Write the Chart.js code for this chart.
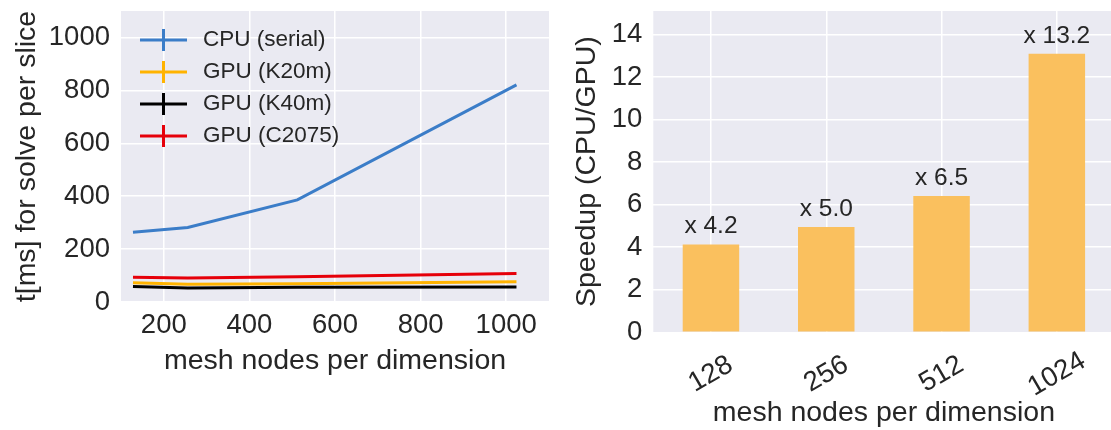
<!DOCTYPE html>
<html><head><meta charset="utf-8">
<script src="https://cdn.jsdelivr.net/npm/chart.js@4.4.1/dist/chart.umd.min.js"></script>
<style>
html,body{margin:0;padding:0;background:#fff;overflow:hidden;width:1111px;height:430px;}
#c1{position:absolute;left:0;top:0;}
#c2{position:absolute;left:560px;top:0;}
</style></head><body>
<canvas id="c1" width="560" height="430"></canvas>
<canvas id="c2" width="560" height="430"></canvas>
<script>
// ---- data ----
const meshNodes = [128, 256, 512, 1024];
const cpuSerial = [264, 282, 386, 821];
const gpuK20m = [73, 67, 69, 77];
const gpuK40m = [59, 53, 55.5, 57];
const gpuC2075 = [93.5, 91, 95, 108];
const timeXTicks = [200, 400, 600, 800, 1000];
const timeYTicks = [0, 200, 400, 600, 800, 1000];
const speedupCategories = ['128', '256', '512', '1024'];
const speedupValues = [4.13, 4.95, 6.40, 13.09];
const speedupLabels = ['x 4.2', 'x 5.0', 'x 6.5', 'x 13.2'];
const speedupYTicks = [0, 2, 4, 6, 8, 10, 12, 14];

const FONT = '"Liberation Sans", Arial, sans-serif';
const TEXT = '#262626';
const TICK_SIZE = 27.5, TITLE_SIZE = 28.5;
Chart.defaults.font.family = FONT;
Chart.defaults.color = TEXT;

function fixW(w) { return s => { s.width = w; s.paddingLeft = s.paddingRight = s.paddingTop = s.paddingBottom = 0; }; }
function fixH(h) { return s => { s.height = h; s.paddingLeft = s.paddingRight = s.paddingTop = s.paddingBottom = 0; }; }
function setTicks(arr) { return s => { s.ticks = arr.map(v => ({ value: v })); }; }
const plain = v => String(v);

const bgPlugin = {
  id: 'bg',
  beforeDraw(chart) {
    const { ctx, chartArea: a } = chart;
    ctx.save(); ctx.fillStyle = '#EAEAF2';
    ctx.fillRect(a.left, a.top, a.right - a.left, a.bottom - a.top);
    ctx.restore();
  }
};

const gridOpts = { color: '#ffffff', lineWidth: 1.5, drawTicks: false };

const legendPlugin = {
  id: 'ebLegend',
  afterDraw(chart) {
    const { ctx, chartArea: a } = chart;
    ctx.save();
    ctx.font = '22.5px ' + FONT;
    ctx.textBaseline = 'middle'; ctx.textAlign = 'left';
    chart.data.datasets.forEach((ds, i) => {
      const y = a.top + 29 + i * 32;
      const x0 = a.left + 19;
      ctx.strokeStyle = ds.borderColor; ctx.lineWidth = 3;
      ctx.beginPath();
      ctx.moveTo(x0, y); ctx.lineTo(x0 + 47, y);
      ctx.moveTo(x0 + 23.5, y - 11); ctx.lineTo(x0 + 23.5, y + 11);
      ctx.stroke();
      ctx.fillStyle = TEXT;
      ctx.fillText(ds.label, x0 + 63, y);
    });
    ctx.restore();
  }
};

function pts(arr) { return meshNodes.map((x, i) => ({ x: x, y: arr[i] })); }
function lineDs(label, arr, color, order) {
  return { label, data: pts(arr), borderColor: color, backgroundColor: color, borderWidth: 3,
           pointRadius: 0, tension: 0, fill: false, order };
}

new Chart(document.getElementById('c1'), {
  type: 'line',
  data: { datasets: [
    lineDs('CPU (serial)', cpuSerial, '#3b7dc8', 4),
    lineDs('GPU (K20m)', gpuK20m, '#ffb300', 3),
    lineDs('GPU (K40m)', gpuK40m, '#000000', 2),
    lineDs('GPU (C2075)', gpuC2075, '#e6000a', 1)
  ]},
  options: {
    responsive: false, animation: false, devicePixelRatio: 1,
    layout: { padding: { left: 0, right: 11, top: 11, bottom: 0 } },
    plugins: { legend: { display: false }, tooltip: { enabled: false } },
    scales: {
      x: {
        type: 'linear', min: 100, max: 1100,
        afterBuildTicks: setTicks(timeXTicks), afterFit: fixH(128),
        border: { display: false }, grid: gridOpts,
        ticks: { font: { size: TICK_SIZE }, padding: 7, maxRotation: 0, callback: plain },
        title: { display: true, text: 'mesh nodes per dimension', font: { size: TITLE_SIZE }, padding: { top: 0, bottom: 52 } }
      },
      y: {
        min: 0, max: 1100,
        afterBuildTicks: setTicks(timeYTicks), afterFit: fixW(121),
        border: { display: false }, grid: gridOpts,
        ticks: { font: { size: TICK_SIZE }, padding: 11, callback: plain },
        title: { display: true, text: 't[ms] for solve per slice', font: { size: TITLE_SIZE }, padding: { top: 10, bottom: 0 } }
      }
    }
  },
  plugins: [bgPlugin, legendPlugin]
});

const barLabelPlugin = {
  id: 'barLabels',
  afterDatasetsDraw(chart) {
    const { ctx } = chart;
    const meta = chart.getDatasetMeta(0);
    ctx.save();
    ctx.font = '24.5px ' + FONT; ctx.fillStyle = TEXT;
    ctx.textAlign = 'center'; ctx.textBaseline = 'alphabetic';
    meta.data.forEach((bar, i) => { ctx.fillText(speedupLabels[i], bar.x, bar.y - 11); });
    ctx.restore();
  }
};
const rotTickPlugin = {
  id: 'rotTicks',
  afterDraw(chart) {
    const { ctx, chartArea: a } = chart;
    const xs = chart.scales.x;
    ctx.save();
    ctx.font = TICK_SIZE + 'px ' + FONT; ctx.fillStyle = TEXT;
    ctx.textAlign = 'center'; ctx.textBaseline = 'middle';
    chart.data.labels.forEach((lab, i) => {
      ctx.save();
      ctx.translate(xs.getPixelForTick(i), a.bottom + 42);
      ctx.rotate(-Math.PI / 6);
      ctx.fillText(lab, 0, 0);
      ctx.restore();
    });
    ctx.restore();
  }
};

new Chart(document.getElementById('c2'), {
  type: 'bar',
  data: { labels: speedupCategories, datasets: [{
    data: speedupValues, backgroundColor: 'rgb(250,192,94)', borderWidth: 0,
    barPercentage: 0.49, categoryPercentage: 1
  }]},
  options: {
    responsive: false, animation: false, devicePixelRatio: 1,
    layout: { padding: { left: 0, right: 5.5, top: 11, bottom: 0 } },
    plugins: { legend: { display: false }, tooltip: { enabled: false } },
    scales: {
      x: {
        afterFit: fixH(97.7),
        border: { display: false }, grid: Object.assign({ offset: false }, gridOpts),
        ticks: { display: false },
        title: { display: true, text: 'mesh nodes per dimension', font: { size: TITLE_SIZE }, padding: { top: 0, bottom: 0 } }
      },
      y: {
        min: 0, max: 15.1,
        afterBuildTicks: setTicks(speedupYTicks), afterFit: fixW(93.3),
        border: { display: false }, grid: gridOpts,
        ticks: { font: { size: TICK_SIZE }, padding: 11, callback: plain },
        title: { display: true, text: 'Speedup (CPU/GPU)', font: { size: TITLE_SIZE }, padding: { top: 10, bottom: 0 } }
      }
    }
  },
  plugins: [bgPlugin, barLabelPlugin, rotTickPlugin]
});
</script>
</body></html>
